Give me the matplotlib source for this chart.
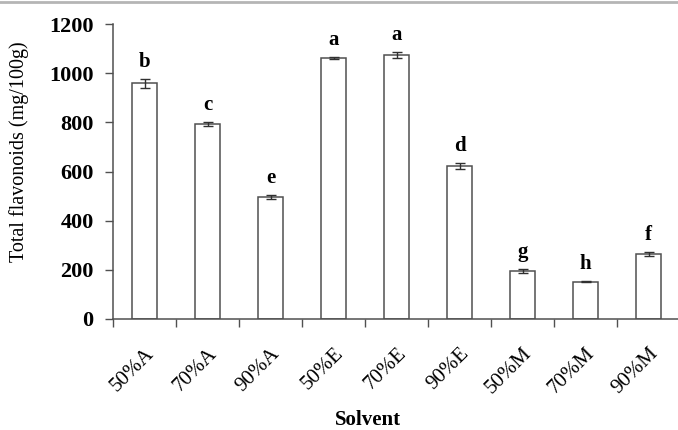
import matplotlib
matplotlib.use("Agg")
import matplotlib.pyplot as plt
from matplotlib.lines import Line2D
import numpy as np

# data
solvents = ["50%A", "70%A", "90%A", "50%E", "70%E", "90%E", "50%M", "70%M", "90%M"]
flavonoids = [958, 792, 497, 1062, 1075, 623, 195, 152, 265]
errors = [20, 8, 8, 4, 12, 11, 8, 3, 8]
letters = ["b", "c", "e", "a", "a", "d", "g", "h", "f"]

plt.rcParams['font.family'] = ['Liberation Serif', 'DejaVu Serif']
edge = '#505050'

fig = plt.figure(figsize=(6.78, 4.3), dpi=100)
ax = fig.add_axes([113 / 678, 111 / 430, 567 / 678, 295 / 430])

x = np.arange(len(solvents))
ax.bar(x, flavonoids, width=0.41, color='white', edgecolor=edge, linewidth=1.1,
       yerr=errors, error_kw=dict(ecolor='#303030', elinewidth=1, capsize=3.6, capthick=1))

# significance letters
for xi, v, e, l in zip(x, flavonoids, errors, letters):
    ax.annotate(l, (xi, v + e), xytext=(0, 5), textcoords='offset points',
                ha='center', va='bottom', fontsize=15, fontweight='bold')

ax.set_xlim(-0.5, 8.5)
ax.set_ylim(0, 1200)
ax.set_yticks(range(0, 1201, 200))
for lab in ax.get_yticklabels():
    lab.set_fontweight('bold')
    lab.set_fontsize(16)
ax.tick_params(axis='y', direction='out', length=6, width=1, color=edge, pad=8)

# ticks between categories, labels at centres
ax.set_xticks(np.arange(-0.5, 9, 1))
ax.set_xticklabels([])
ax.tick_params(axis='x', which='major', direction='out', length=6, width=1, color=edge)
ax.set_xticks(x, minor=True)
ax.set_xticklabels(solvents, minor=True, rotation=45, ha='right',
                   rotation_mode='anchor', fontsize=15)
ax.tick_params(axis='x', which='minor', length=0, pad=18)

for s in ['top', 'right']:
    ax.spines[s].set_visible(False)
for s in ['left', 'bottom']:
    ax.spines[s].set_color(edge)
    ax.spines[s].set_linewidth(1.1)

ax.set_ylabel('Total flavonoids (mg/100g)', fontsize=14.5)
ax.yaxis.set_label_coords(-0.148, 0.566)
ax.set_xlabel('Solvent', fontsize=15, fontweight='bold')
ax.xaxis.set_label_coords(0.45, -0.31)

# thin grey rule along the top edge
fig.add_artist(Line2D([0, 1], [0.996, 0.996], color='#b5b5b5', linewidth=2,
                      transform=fig.transFigure))

fig.savefig('out.png', dpi=100)
